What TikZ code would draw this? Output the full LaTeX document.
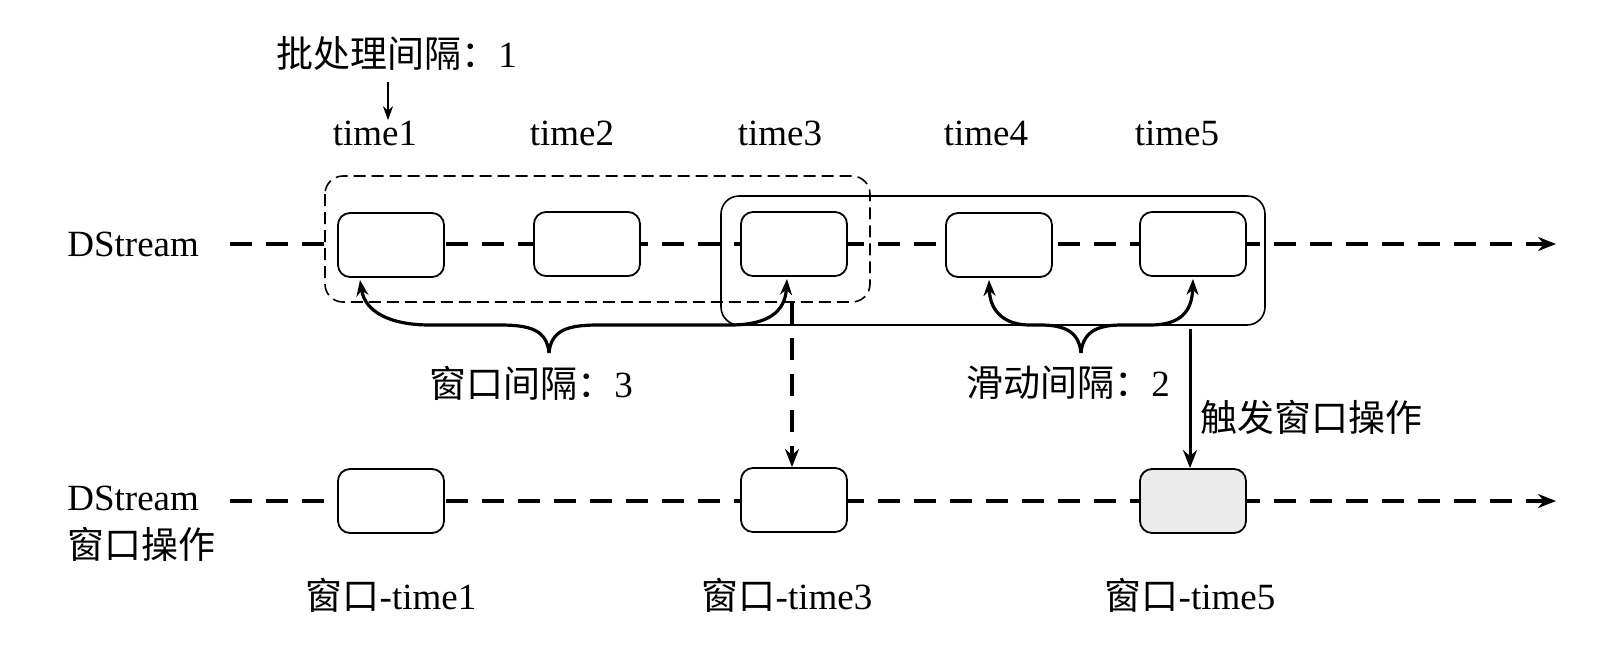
\documentclass[tikz,border=0pt]{standalone}
\usepackage{fontspec}
\setmainfont{Liberation Serif}
\newfontfamily\cjk{Noto Sans CJK SC}
\usetikzlibrary{arrows.meta,calc}
\begin{document}
\begin{tikzpicture}[x=0.5pt,y=-0.5pt,
  every node/.style={font=\fontsize{18.5}{22}\selectfont},
  box/.style={draw,line width=0.9pt,rounded corners=6pt,fill=white,minimum width=53pt,minimum height=32pt,inner sep=0pt},
  stream/.style={line width=1.6pt,dash pattern=on 11pt off 7pt,-{Stealth[length=9pt,width=7pt,open,fill=white]}},
  win/.style={draw,line width=0.8pt,rounded corners=9pt},
  brace/.style={line width=1.6pt,-{Stealth[length=8pt,width=6pt]}},
  lbl/.style={inner sep=0pt}]
\useasboundingbox (0,0) rectangle (1602,654);
% labels
\node[lbl,anchor=west] (L1) at (67,244) {DStream};
\node[lbl,anchor=west,align=left] (L2) at (67,524) {DStream\\[2pt]{\cjk 窗口操作}};
\node[lbl,anchor=west] (batch) at (276,53) {{\cjk 批处理间隔：}1};
\node[lbl] (t1) at (375,133) {time1};
\node[lbl] (t2) at (572,133) {time2};
\node[lbl] (t3) at (780,133) {time3};
\node[lbl] (t4) at (986,133) {time4};
\node[lbl] (t5) at (1177,133) {time5};
\coordinate (bs) at (388,82);
\draw[line width=1.1pt,-{Stealth[length=7pt,width=5pt]}] (bs) -- (t1.north -| bs);
% window rectangles
\draw[win,dash pattern=on 6pt off 3pt] (325,176) rectangle (870,302);
\draw[win] (721,196) rectangle (1265,325);
% streams
\coordinate (s1) at (230,244);
\coordinate (e1) at (1556,244);
\coordinate (s2) at (230,501);
\coordinate (e2) at (1556,501);
\draw[stream] (s1) -- (e1);
\draw[stream] (s2) -- (e2);
\node[box] (a1) at (391,245) {};
\node[box] (a2) at (587,244) {};
\node[box] (a3) at (794,244) {};
\node[box] (a4) at (999,245) {};
\node[box] (a5) at (1193,244) {};
\node[box] (b1) at (391,501) {};
\node[box] (b3) at (794,500) {};
\node[box,fill=black!8] (b5) at (1193,501) {};
% braces
\coordinate (k1) at (549,353);
\draw[brace] (k1) .. controls (547,330) and (530,325) .. (500,325) -- (430,325) .. controls (390,325) and (365,312) .. ($(a1.south)+(-31,2)$);
\draw[brace] (k1) .. controls (551,330) and (568,325) .. (598,325) -- (730,325) .. controls (768,325) and (785,312) .. ($(a3.south)+(-7,2)$);
\coordinate (k2) at (1081,353);
\draw[brace] (k2) .. controls (1079,330) and (1062,325) .. (1040,325) -- (1030,325) .. controls (1005,325) and (990,312) .. ($(a4.south)+(-10,2)$);
\draw[brace] (k2) .. controls (1083,330) and (1100,325) .. (1122,325) -- (1150,325) .. controls (1180,325) and (1192,312) .. ($(a5.south)+(0,2)$);
\node[lbl] (w3) at (531,383) {{\cjk 窗口间隔：}3};
\node[lbl] (s2l) at (1068,383) {{\cjk 滑动间隔：}2};
% vertical arrows
\coordinate (v1) at (792,302);
\draw[line width=1.6pt,dash pattern=on 11pt off 7pt,-{Stealth[length=9pt,width=7pt]}] (v1) -- (v1 |- b3.north);
\coordinate (v2) at (1190,329);
\draw[line width=1.5pt,-{Stealth[length=9pt,width=7pt]}] (v2) -- (v2 |- b5.north);
\node[lbl,anchor=west] (trig) at (1200,417) {\cjk 触发窗口操作};
% bottom labels
\node[lbl] (n1) at (391,595) {{\cjk 窗口}-time1};
\node[lbl] (n3) at (787,595) {{\cjk 窗口}-time3};
\node[lbl] (n5) at (1190,595) {{\cjk 窗口}-time5};
\end{tikzpicture}
\end{document}
